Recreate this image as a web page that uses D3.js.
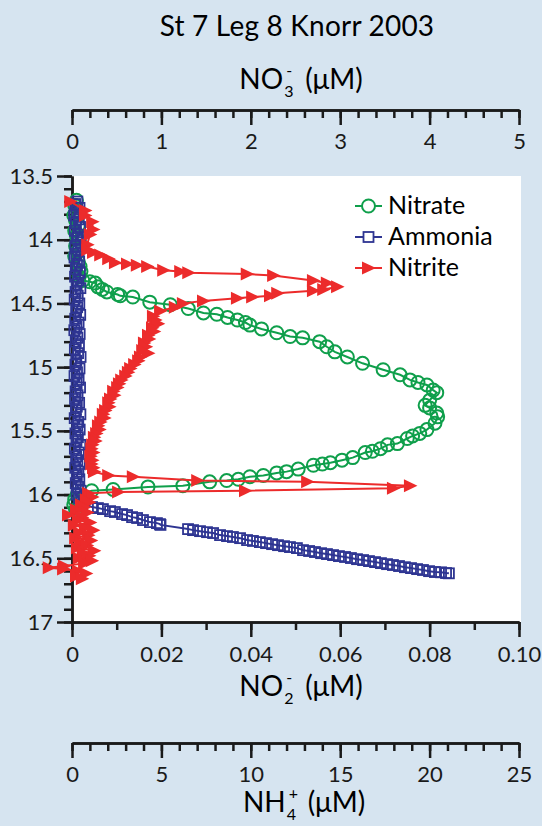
<!DOCTYPE html>
<html>
<head>
<meta charset="utf-8">
<script src="https://cdn.jsdelivr.net/npm/d3@7"></script>
<style>
	body { margin: 0; background: #d6e4f0; }
	svg { display: block; font-family: Lato, sans-serif; }
</style>
</head>
<body>
<script>
let width = 542;
let height = 826;

let title = "St 7 Leg 8 Knorr 2003";

// nitrate, read against the top NO3- axis (uM)
let nitrateDepth = [13.69, 13.73, 13.77, 13.81, 13.85, 13.89, 13.93, 13.97, 14.01, 14.05, 14.09, 14.13, 14.17, 14.21, 14.25, 14.29, 14.32,
	14.33, 14.34, 14.37, 14.39, 14.41, 14.43, 14.44, 14.45, 14.49, 14.51, 14.54, 14.575, 14.585, 14.61, 14.63, 14.65, 14.67, 14.70,
	14.73, 14.76, 14.77, 14.80, 14.84, 14.88, 14.92, 14.97, 15.02, 15.06, 15.10, 15.12, 15.14, 15.18, 15.20, 15.26, 15.30, 15.32,
	15.36, 15.39, 15.44, 15.49, 15.52, 15.54, 15.56, 15.60, 15.61, 15.64, 15.66, 15.67, 15.71, 15.73, 15.75, 15.76, 15.77, 15.80,
	15.82, 15.83, 15.85, 15.86, 15.88, 15.89, 15.90, 15.93, 15.94, 15.96, 15.97, 16.00, 16.04, 16.08, 16.12];
let nitrateConc = [0.05, 0.03, 0.06, 0.02, 0.04, 0.07, 0.03, 0.05, 0.08, 0.04, 0.06, 0.03, 0.07, 0.09, 0.10, 0.08, 0.12,
	0.20, 0.26, 0.29, 0.34, 0.39, 0.51, 0.54, 0.68, 0.87, 1.10, 1.30, 1.47, 1.62, 1.74, 1.85, 1.94, 1.99, 2.12,
	2.29, 2.44, 2.58, 2.77, 2.85, 2.94, 3.08, 3.25, 3.48, 3.67, 3.78, 3.87, 3.97, 4.04, 4.08, 4.00, 3.95, 4.00,
	4.08, 4.09, 4.06, 3.97, 3.89, 3.81, 3.75, 3.64, 3.53, 3.45, 3.36, 3.28, 3.14, 3.02, 2.89, 2.80, 2.70, 2.53,
	2.40, 2.29, 2.14, 1.99, 1.86, 1.73, 1.54, 1.24, 0.85, 0.46, 0.22, 0.06, 0.03, 0.02, 0.04];

// ammonia, read against the NH4+ axis (uM)
let ammoniaDepth = [13.70, 13.72, 13.75, 13.78, 13.81, 13.84, 13.87, 13.90, 13.93, 13.96, 13.99, 14.02, 14.05, 14.08, 14.11, 14.14,
	14.17, 14.20, 14.23, 14.26, 14.29, 14.32, 14.35, 14.38, 14.41, 14.44, 14.47, 14.50, 14.53, 14.56, 14.59, 14.62, 14.65, 14.68,
	14.71, 14.74, 14.77, 14.80, 14.83, 14.86, 14.89, 14.92, 14.95, 14.98, 15.01, 15.04, 15.07, 15.10, 15.13, 15.16, 15.19, 15.22,
	15.25, 15.28, 15.31, 15.34, 15.37, 15.40, 15.43, 15.46, 15.49, 15.52, 15.55, 15.58, 15.61, 15.64, 15.67, 15.70, 15.73, 15.76,
	15.79, 15.82, 15.85, 15.88, 15.91, 15.94, 15.97, 16.00, 16.03, 16.06,
	16.098, 16.106, 16.114, 16.130, 16.137, 16.153, 16.161, 16.177, 16.184, 16.200, 16.216, 16.224, 16.232, 16.238,
	16.271, 16.279, 16.287, 16.295, 16.302, 16.318, 16.326, 16.333, 16.342, 16.357, 16.364, 16.373, 16.381, 16.389, 16.397, 16.405,
	16.412, 16.420, 16.436, 16.443, 16.451, 16.460, 16.467, 16.475, 16.483, 16.490, 16.498, 16.507, 16.514, 16.522, 16.530, 16.538,
	16.546, 16.553, 16.561, 16.570, 16.577, 16.585, 16.592, 16.601, 16.608, 16.610, 16.616, 16.618];
let ammoniaConc = [0.30, 0.18, 0.42, 0.25, 0.12, 0.38, 0.22, 0.45, 0.16, 0.33, 0.27, 0.48, 0.19, 0.36, 0.24, 0.14,
	0.40, 0.28, 0.21, 0.44, 0.17, 0.35, 0.26, 0.47, 0.20, 0.32, 0.15, 0.41, 0.29, 0.23, 0.46, 0.18, 0.37, 0.25,
	0.13, 0.43, 0.30, 0.21, 0.39, 0.16, 0.34, 0.48, 0.24, 0.19, 0.42, 0.28, 0.14, 0.37, 0.26, 0.45, 0.20, 0.31,
	0.17, 0.40, 0.27, 0.22, 0.47, 0.15, 0.35, 0.29, 0.43, 0.19, 0.33, 0.25, 0.46, 0.16, 0.38, 0.23, 0.30, 0.44,
	0.18, 0.36, 0.27, 0.41, 0.21, 0.34, 0.48, 0.26, 0.39, 0.52,
	1.12, 1.45, 1.73, 2.13, 2.40, 2.80, 3.08, 3.36, 3.64, 3.97, 4.36, 4.75, 4.92, 4.95,
	6.49, 6.77, 7.16, 7.55, 7.89, 8.28, 8.67, 9.00, 9.40, 9.79, 10.12, 10.51, 10.85, 11.19, 11.52, 11.86,
	12.19, 12.58, 12.92, 13.26, 13.59, 13.93, 14.26, 14.60, 14.93, 15.27, 15.60, 15.94, 16.28, 16.61, 16.95, 17.28,
	17.62, 17.95, 18.29, 18.62, 18.96, 19.30, 19.63, 19.97, 20.30, 20.64, 20.92, 21.08];

// nitrite, read against the bottom NO2- axis (uM)
let nitriteDepth = [13.70, 13.77, 13.81, 13.86, 13.92, 13.96, 14.04, 14.08, 14.10, 14.12, 14.15, 14.18, 14.19, 14.20, 14.21, 14.24,
	14.25, 14.26, 14.27, 14.28, 14.32, 14.34, 14.37, 14.39, 14.40, 14.42, 14.44, 14.45, 14.46, 14.48, 14.50, 14.53, 14.56, 14.60,
	14.63, 14.66, 14.69, 14.72, 14.75, 14.78, 14.81, 14.84, 14.87, 14.89, 14.92, 14.95, 14.98, 15.01, 15.04, 15.07, 15.10, 15.13,
	15.16, 15.19, 15.22, 15.25, 15.28, 15.31, 15.34, 15.37, 15.40, 15.43, 15.46, 15.49, 15.52, 15.55, 15.58, 15.61, 15.64, 15.67,
	15.70, 15.73, 15.76, 15.79, 15.82, 15.85, 15.86, 15.89, 15.90, 15.93, 15.95, 15.97, 15.98, 15.99,
	16.02, 16.04, 16.06, 16.08, 16.10, 16.12, 16.14, 16.16, 16.18, 16.20, 16.22, 16.24, 16.26, 16.28, 16.30, 16.32, 16.34,
	16.36, 16.38, 16.40, 16.42, 16.44, 16.46, 16.48, 16.50, 16.52, 16.54, 16.56, 16.575, 16.585, 16.60, 16.62, 16.64, 16.66];
let nitriteConc = [-0.0004, 0.0029, 0.0029, 0.0045, 0.0047, 0.0040, 0.0034, 0.0034, 0.0047, 0.0063, 0.0081, 0.0096, 0.0123, 0.0145, 0.0168, 0.0204,
	0.0242, 0.0260, 0.0391, 0.0450, 0.0539, 0.0570, 0.0593, 0.0562, 0.0539, 0.0459, 0.0443, 0.0403, 0.0369, 0.0293, 0.0248, 0.0230, 0.0197, 0.0181,
	0.0186, 0.0192, 0.0179, 0.0183, 0.0170, 0.0172, 0.0161, 0.0165, 0.0157, 0.0170, 0.0152, 0.0148, 0.0139, 0.0130, 0.0125, 0.0119, 0.0110, 0.0105,
	0.0101, 0.0092, 0.0094, 0.0085, 0.0081, 0.0083, 0.0074, 0.0069, 0.0072, 0.0063, 0.0058, 0.0061, 0.0054, 0.0049, 0.0052, 0.0045, 0.0043, 0.0047,
	0.0041, 0.0045, 0.0043, 0.0047, 0.0049, 0.0081, 0.0136, 0.0280, 0.0526, 0.0756, 0.0718, 0.0387, 0.0103, 0.0036,
	0.0045, 0.0031, 0.0038, 0.0020, 0.0027, 0.0009, 0.0034, -0.0009, 0.0022, 0.0013, 0.0040, 0.0004, 0.0029, 0.0047, 0.0016, 0.0036, 0.0007,
	0.0042, 0.0018, 0.0033, 0.0011, 0.0049, 0.0024, 0.0038, 0.0015, 0.0044, 0.0027, -0.0018, -0.0052, -0.0020, 0.0013, 0.0031, 0.0009, 0.0022];

let depthMajor = [13.5, 14, 14.5, 15, 15.5, 16, 16.5, 17];
let no2Major = [0, 0.02, 0.04, 0.06, 0.08, 0.10];
let no2Labels = ["0", "0.02", "0.04", "0.06", "0.08", "0.10"];
let no3Major = [0, 1, 2, 3, 4, 5];
let nh4Major = [0, 5, 10, 15, 20, 25];

let legendNames = ["Nitrate", "Ammonia", "Nitrite"];

let green = "#0f9f4b";
let blue = "#2e3592";
let red = "#ec2b2b";

let svg = d3.select("body").append("svg")
	.attr("width", width)
	.attr("height", height);

let y = d3.scaleLinear().domain([13.5, 17]).range([176, 622]);
let xNO2 = d3.scaleLinear().domain([0, 0.1]).range([72, 519]);
let xNO3 = d3.scaleLinear().domain([0, 5]).range([72, 519]);
let xNH4 = d3.scaleLinear().domain([0, 25]).range([72, 519]);

svg.append("rect")
	.attr("x", 72)
	.attr("y", 176)
	.attr("width", 449)
	.attr("height", 446)
	.attr("fill", "#fff");

svg.append("text")
	.text(title)
	.attr("x", 297)
	.attr("y", 36)
	.attr("text-anchor", "middle")
	.style("font-size", "28px")
	.style("letter-spacing", "0.2px");

function styleAxis(g){
	g.selectAll("path, line").attr("stroke", "#1a1a1a").attr("stroke-width", 2.5);
	g.selectAll("text").attr("fill", "#1a1a1a").style("font-size", "22px").style("font-family", "Lato, sans-serif");
}

// minor ticks first, then the labelled majors on top
function drawAxis(axisFn, scale, minor, major, fmt, transform, pad){
	svg.append("g")
		.attr("transform", transform)
		.call(axisFn(scale).tickValues(minor).tickSize(8).tickSizeOuter(0).tickFormat(""))
		.call(styleAxis);
	svg.append("g")
		.attr("transform", transform)
		.call(axisFn(scale).tickValues(major).tickSize(15).tickSizeOuter(0).tickPadding(pad).tickFormat(fmt))
		.call(styleAxis);
}

drawAxis(d3.axisLeft, y, d3.range(135, 171).map(d => d / 10), depthMajor, d => d, "translate(72,0)", 4);
drawAxis(d3.axisBottom, xNO2, d3.range(0, 11).map(d => d / 100), no2Major, (d, i) => no2Labels[i], "translate(0,622)", 9);
drawAxis(d3.axisBottom, xNO3, d3.range(0, 26).map(d => d / 5), no3Major, d => d, "translate(0,110)", 8);
drawAxis(d3.axisBottom, xNH4, d3.range(0, 26), nh4Major, d => d, "translate(0,743)", 8);

// unit label built from separate pieces so the sub/superscript stack
function unitLabel(cx, base, baseText, sub, sup){
	let g = svg.append("g");
	let a = g.append("text").text(baseText).attr("y", base).style("font-size", "28px");
	let w = a.node().getComputedTextLength();
	g.append("text").text(sub).attr("x", w + 1).attr("y", base + 8).style("font-size", "16px");
	g.append("text").text(sup).attr("x", w + 3).attr("y", base - 13).style("font-size", "16px");
	let b = g.append("text").text("(\u03bcM)").attr("x", w + 22).attr("y", base).style("font-size", "28px");
	let total = w + 22 + b.node().getComputedTextLength();
	g.attr("transform", `translate(${cx - total / 2},0)`);
}
unitLabel(301, 89, "NO", "3", "-");
unitLabel(301, 696, "NO", "2", "-");
unitLabel(304, 812, "NH", "4", "+");

let nitrate = nitrateDepth.map((d, i) => ({ depth: d, v: nitrateConc[i] }));
let ammonia = ammoniaDepth.map((d, i) => ({ depth: d, v: ammoniaConc[i] }));
let nitrite = nitriteDepth.map((d, i) => ({ depth: d, v: nitriteConc[i] }));

let plot = svg.append("g");

// nitrate
plot.append("path")
	.datum(nitrate)
	.attr("fill", "none")
	.attr("stroke", green)
	.attr("stroke-width", 2)
	.attr("d", d3.line().x(d => xNO3(d.v)).y(d => y(d.depth)));
plot.selectAll(".no3")
	.data(nitrate)
	.enter()
	.append("circle")
	.attr("class", "no3")
	.attr("cx", d => xNO3(d.v))
	.attr("cy", d => y(d.depth))
	.attr("r", 6.5)
	.attr("fill", "none")
	.attr("stroke", green)
	.attr("stroke-width", 2);

// ammonia
plot.append("path")
	.datum(ammonia)
	.attr("fill", "none")
	.attr("stroke", blue)
	.attr("stroke-width", 2)
	.attr("d", d3.line().x(d => xNH4(d.v)).y(d => y(d.depth)));
plot.selectAll(".nh4")
	.data(ammonia)
	.enter()
	.append("rect")
	.attr("class", "nh4")
	.attr("x", d => xNH4(d.v) - 5)
	.attr("y", d => y(d.depth) - 5)
	.attr("width", 10)
	.attr("height", 10)
	.attr("fill", "none")
	.attr("stroke", blue)
	.attr("stroke-width", 1.8);

// nitrite
plot.append("path")
	.datum(nitrite)
	.attr("fill", "none")
	.attr("stroke", red)
	.attr("stroke-width", 2)
	.attr("d", d3.line().x(d => xNO2(d.v)).y(d => y(d.depth)));
plot.selectAll(".no2")
	.data(nitrite)
	.enter()
	.append("path")
	.attr("class", "no2")
	.attr("d", "M-6,-6.5L7.5,0L-6,6.5Z")
	.attr("transform", d => `translate(${xNO2(d.v)},${y(d.depth)})`)
	.attr("fill", red);

// legend
let legend = svg.append("g").attr("transform", "translate(355,206)");
let rows = legend.selectAll("g")
	.data(legendNames)
	.enter()
	.append("g")
	.attr("transform", (d, i) => `translate(0,${i * 31})`);
rows.append("line")
	.attr("x1", 0).attr("x2", 27)
	.attr("stroke", (d, i) => [green, blue, red][i])
	.attr("stroke-width", 2);
rows.filter((d, i) => i == 0).append("circle")
	.attr("cx", 13.5).attr("r", 6.5).attr("fill", "#fff").attr("stroke", green).attr("stroke-width", 2);
rows.filter((d, i) => i == 1).append("rect")
	.attr("x", 8.5).attr("y", -5).attr("width", 10).attr("height", 10)
	.attr("fill", "#fff").attr("stroke", blue).attr("stroke-width", 1.8);
rows.filter((d, i) => i == 2).append("path")
	.attr("d", "M7,-6.5L21,0L7,6.5Z").attr("fill", red);
rows.append("text")
	.text(d => d)
	.attr("x", 33)
	.attr("y", 8)
	.style("font-size", "25px");
</script>
</body>
</html>
